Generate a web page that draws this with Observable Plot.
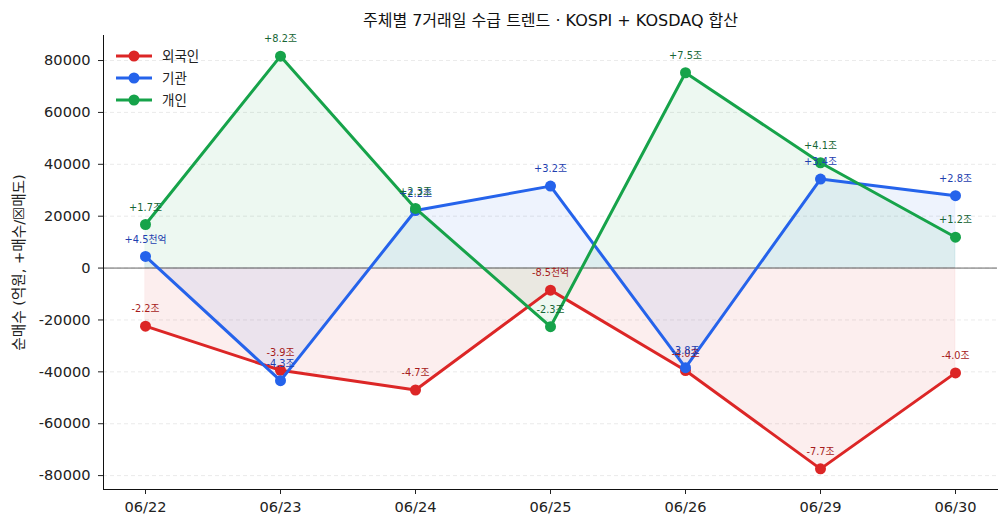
<!DOCTYPE html>
<html>
<head>
<meta charset="utf-8">
<script src="https://cdn.jsdelivr.net/npm/d3@7"></script>
<script src="https://cdn.jsdelivr.net/npm/@observablehq/plot@0.6"></script>
<style>
  html, body { margin: 0; padding: 0; background: #fff; }
  #wrap { position: relative; width: 1007px; height: 527px; }
  #legend { position: absolute; left: 0; top: 0; pointer-events: none; }
</style>
</head>
<body>
<div id="wrap"></div>
<script>
// Trading days
const dates = ["06/22", "06/23", "06/24", "06/25", "06/26", "06/29", "06/30"];

// Net buying per investor group, 억원 (KOSPI + KOSDAQ combined)
const foreign = [-22400, -39400, -47000, -8500, -39500, -77400, -40400];
const institution = [4500, -43400, 22200, 31600, -38400, 34300, 27900];
const individual = [16800, 81700, 23000, -22600, 75300, 40600, 11900];

const seriesNames = ["외국인", "기관", "개인"];
const seriesValues = [foreign, institution, individual];
const seriesColors = ["#dc2626", "#2563eb", "#16a34a"];
const labelColors = ["#a61b1b", "#1e40af", "#166534"];

const yTicks = [-80000, -60000, -40000, -20000, 0, 20000, 40000, 60000, 80000];

const titleText = "주체별 7거래일 수급 트렌드 · KOSPI + KOSDAQ 합산";
const yLabel = "순매수 (억원, +매수/☒매도)";

// 억원 → "조" when ≥ 1조, otherwise "천억"
function fmt(v) {
  const sign = v >= 0 ? "+" : "-";
  const a = Math.abs(v);
  return a >= 10000 ? `${sign}${(a / 10000).toFixed(1)}조` : `${sign}${(a / 1000).toFixed(1)}천억`;
}

const rows = seriesNames.map((name, s) =>
  dates.map((d, i) => ({series: name, date: d, value: seriesValues[s][i], label: fmt(seriesValues[s][i])}))
);

const font = "'DejaVu Sans', 'Noto Sans CJK KR', sans-serif";

const marks = [
  Plot.gridY(yTicks, {stroke: "#d9d9d9", strokeOpacity: 0.7, strokeDasharray: "4,3", strokeWidth: 0.8})
];

// shaded areas between zero and each series
rows.forEach((r, s) => {
  marks.push(Plot.areaY(r, {x: "date", y1: 0, y2: "value", fill: seriesColors[s], fillOpacity: 0.08,
    stroke: seriesColors[s], strokeOpacity: 0.06, strokeWidth: 1}));
});

marks.push(Plot.ruleY([0], {stroke: "#666", strokeWidth: 1}));

rows.forEach((r, s) => {
  marks.push(Plot.line(r, {x: "date", y: "value", stroke: seriesColors[s], strokeWidth: 3}));
  marks.push(Plot.dot(r, {x: "date", y: "value", fill: seriesColors[s], r: 5.5}));
});

rows.forEach((r, s) => {
  marks.push(Plot.text(r, {x: "date", y: "value", text: "label", fill: labelColors[s], fontSize: 9.8, dy: -17}));
});

marks.push(
  Plot.axisX({tickSize: 5, tickPadding: 7, label: null, fontSize: 14.6, color: "#222"}),
  Plot.axisY({ticks: yTicks, tickFormat: d => String(d), tickSize: 5, tickPadding: 8, fontSize: 14.6, color: "#222",
    label: yLabel, labelAnchor: "center", labelArrow: "none", labelOffset: 90}),
  Plot.frame({anchor: "left", stroke: "#111"}),
  Plot.frame({anchor: "bottom", stroke: "#111"}),
  Plot.text([titleText], {frameAnchor: "top", lineAnchor: "middle", dy: -15, fontSize: 16, fill: "#111"})
);

const chart = Plot.plot({
  width: 1007,
  height: 527,
  marginLeft: 103,
  marginRight: 10,
  marginTop: 35,
  marginBottom: 38,
  style: {fontFamily: font, fontSize: "14.5px", background: "white", color: "#222"},
  x: {type: "point", domain: dates, padding: 0.3},
  y: {domain: [-85355, 89655]},
  marks
});

const wrap = document.getElementById("wrap");
wrap.appendChild(chart);

// legend in the top-left corner of the frame
const legend = d3.create("svg")
  .attr("id", "legend")
  .attr("width", 260)
  .attr("height", 120)
  .style("font-family", font);
seriesNames.forEach((name, i) => {
  const g = legend.append("g").attr("transform", `translate(116,${56 + i * 22})`);
  g.append("line").attr("x1", 0).attr("x2", 36).attr("y1", 0).attr("y2", 0)
    .attr("stroke", seriesColors[i]).attr("stroke-width", 3);
  g.append("circle").attr("cx", 18).attr("cy", 0).attr("r", 5.5).attr("fill", seriesColors[i]);
  g.append("text").attr("x", 46).attr("y", 0).attr("dy", "0.35em")
    .attr("font-size", 13.5).attr("fill", "#222").text(name);
});
wrap.appendChild(legend.node());
</script>
</body>
</html>
